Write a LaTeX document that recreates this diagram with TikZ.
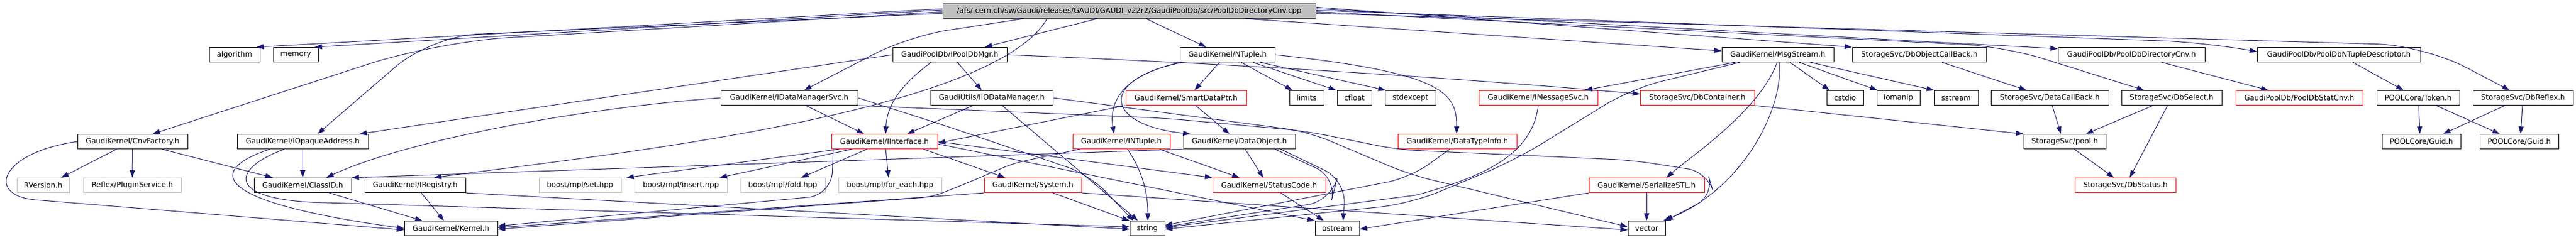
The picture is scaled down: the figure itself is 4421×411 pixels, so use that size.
\documentclass[tikz,border=0pt]{standalone}
\usepackage{fontspec}
\setmainfont{DejaVu Sans}
\usetikzlibrary{arrows.meta}
\definecolor{edgec}{HTML}{191970}
\definecolor{grayb}{HTML}{BFBFBF}
\newcommand\gnode[6]{\node[#1,minimum width=#5*0.75pt] (#2) at (#3,-#4) {#6};}
\begin{document}
\begin{tikzpicture}[x=0.75pt,y=0.75pt,
  box/.style={draw=black, line width=0.75pt, minimum height=18.9pt, inner sep=0pt, font=\fontsize{9.4pt}{11pt}\selectfont, anchor=center},
  rbox/.style={box, draw=red},
  gbox/.style={box, draw=grayb},
  rootbox/.style={box, fill=grayb},
  edge/.style={draw=edgec, line width=0.75pt, -{Triangle[length=9.5pt,width=6.5pt]}},
  redge/.style={edge, rounded corners=#1},
  redge/.default=40pt
]
\useasboundingbox (0,0) rectangle (4421,-411);
\fill[white] (0,0) rectangle (4421,-411);
% row 0
\gnode{rootbox}{root}{1938}{19}{640}{/afs/.cern.ch/sw/Gaudi/releases/GAUDI/GAUDI\_v22r2/GaudiPoolDb/src/PoolDbDirectoryCnv.cpp}
% row 1
\gnode{box}{algorithm}{402.5}{94}{87}{algorithm}
\gnode{box}{memory}{507.5}{94}{77}{memory}
\gnode{box}{IPoolDbMgr}{1630}{94}{196}{GaudiPoolDb/IPoolDbMgr.h}
\gnode{box}{NTuple}{2106.5}{94}{163}{GaudiKernel/NTuple.h}
\gnode{box}{MsgStream}{3051}{94}{192}{GaudiKernel/MsgStream.h}
\gnode{box}{DbObjectCallBack}{3294}{94}{230}{StorageSvc/DbObjectCallBack.h}
\gnode{box}{PoolDbDirectoryCnv}{3658}{94}{252}{GaudiPoolDb/PoolDbDirectoryCnv.h}
\gnode{box}{PoolDbNTupleDescriptor}{4014}{94}{280}{GaudiPoolDb/PoolDbNTupleDescriptor.h}
% row 2
\gnode{box}{IDataManagerSvc}{1354.5}{168}{235}{GaudiKernel/IDataManagerSvc.h}
\gnode{box}{IIODataManager}{1702}{168}{210}{GaudiUtils/IIODataManager.h}
\gnode{rbox}{SmartDataPtr}{2035.5}{168}{207}{GaudiKernel/SmartDataPtr.h}
\gnode{box}{limits}{2242.5}{168}{59}{limits}
\gnode{box}{cfloat}{2324.5}{168}{59}{cfloat}
\gnode{box}{stdexcept}{2420.5}{168}{87}{stdexcept}
\gnode{rbox}{IMessageSvc}{2640}{168}{204}{GaudiKernel/IMessageSvc.h}
\gnode{rbox}{DbContainer}{2913}{168}{196}{StorageSvc/DbContainer.h}
\gnode{box}{cstdio}{3166.5}{168}{63}{cstdio}
\gnode{box}{iomanip}{3258}{168}{74}{iomanip}
\gnode{box}{sstream}{3357}{168}{76}{sstream}
\gnode{box}{DataCallBack}{3518}{168}{202}{StorageSvc/DataCallBack.h}
\gnode{box}{DbSelect}{3727}{168}{172}{StorageSvc/DbSelect.h}
\gnode{rbox}{PoolDbStatCnv}{3946}{168}{218}{GaudiPoolDb/PoolDbStatCnv.h}
\gnode{box}{Token}{4150}{168}{142}{POOLCore/Token.h}
\gnode{box}{DbReflex}{4330}{168}{172}{StorageSvc/DbReflex.h}
% row 3
\gnode{box}{CnvFactory}{227.5}{243}{189}{GaudiKernel/CnvFactory.h}
\gnode{box}{IOpaqueAddress}{519.5}{243}{225}{GaudiKernel/IOpaqueAddress.h}
\gnode{rbox}{IInterface}{1518}{243}{182}{GaudiKernel/IInterface.h}
\gnode{rbox}{INTuple}{1924.5}{243}{167}{GaudiKernel/INTuple.h}
\gnode{box}{DataObject}{2127}{243}{192}{GaudiKernel/DataObject.h}
\gnode{rbox}{DataTypeInfo}{2501}{243}{204}{GaudiKernel/DataTypeInfo.h}
\gnode{box}{pool}{3543.5}{243}{141}{StorageSvc/pool.h}
\gnode{box}{GuidA}{4155.5}{243}{135}{POOLCore/Guid.h}
\gnode{box}{GuidB}{4323.5}{243}{135}{POOLCore/Guid.h}
% row 4
\gnode{gbox}{RVersion}{74}{318}{90}{RVersion.h}
\gnode{gbox}{PluginService}{227}{318}{168}{Reflex/PluginService.h}
\gnode{box}{ClassID}{519.5}{318}{167}{GaudiKernel/ClassID.h}
\gnode{box}{IRegistry}{712.5}{318}{173}{GaudiKernel/IRegistry.h}
\gnode{gbox}{mplset}{995.5}{318}{141}{boost/mpl/set.hpp}
\gnode{gbox}{mplinsert}{1168.5}{318}{159}{boost/mpl/insert.hpp}
\gnode{gbox}{mplfold}{1343.5}{318}{145}{boost/mpl/fold.hpp}
\gnode{gbox}{mplforeach}{1527.5}{318}{177}{boost/mpl/for\_each.hpp}
\gnode{rbox}{System}{1772.5}{318}{167}{GaudiKernel/System.h}
\gnode{rbox}{StatusCode}{2178}{318}{194}{GaudiKernel/StatusCode.h}
\gnode{rbox}{SerializeSTL}{2826}{318}{198}{GaudiKernel/SerializeSTL.h}
\gnode{rbox}{DbStatus}{3647.5}{318}{173}{StorageSvc/DbStatus.h}
% row 5
\gnode{box}{Kernel}{774}{392}{160}{GaudiKernel/Kernel.h}
\gnode{box}{string}{1969}{392}{60}{string}
\gnode{box}{ostream}{2295}{392}{76}{ostream}
\gnode{box}{vector}{2826}{392}{64}{vector}

% ---- edges from root
\draw[edge] ([yshift=3pt]root.west) -- (algorithm.north -| 440,0);
\draw[edge] ([yshift=1.5pt]root.west) -- (memory.north -| 540,0);
\draw[redge=90pt] ([yshift=-1pt]root.west) -- (750,-72) -- (CnvFactory.north -| 262,0);
\draw[redge=60pt] ([yshift=-3pt]root.west) -- (740,-62) -- (IOpaqueAddress.north -| 545,0);
\draw[redge=50pt] (root.south -| 1757,0) -- (1560,-62) -- (IDataManagerSvc.north -| 1380,0);
\draw[edge] (root.south -| 1797,0) .. controls (1700,-200) and (1000,-270) .. (IRegistry.north -| 745,0);
\draw[edge] (root.south -| 1883,0) -- (IPoolDbMgr.north -| 1690,0);
\draw[edge] (root.south -| 1967,0) -- (NTuple.north -| 2070,0);
\draw[edge] (root.south -| 2137,0) -- ([yshift=5pt]MsgStream.west);
\draw[edge] ([yshift=5pt]root.east) -- (DbObjectCallBack.north west);
\draw[edge] ([yshift=3pt]root.east) -- ([yshift=-2pt]PoolDbDirectoryCnv.north west);
\draw[redge=60pt] ([yshift=1pt]root.east) -- (3790,-73) -- ([yshift=4pt]PoolDbNTupleDescriptor.west);
\draw[redge=50pt] ([yshift=-1pt]root.east) -- (3440,-80) -- (DbSelect.north -| 3680,0);
\draw[redge=60pt] ([yshift=-3pt]root.east) -- (4160,-78) -- (DbReflex.north -| 4307,0);

% ---- IPoolDbMgr
\draw[edge] (IPoolDbMgr.south -| 1643,0) -- (IIODataManager.north -| 1685,0);
\draw[edge] (IPoolDbMgr.south -| 1598,0) .. controls (1540,-150) and (1522,-185) .. (IInterface.north -| 1520,0);
\draw[edge] (IPoolDbMgr.east) .. controls (2000,-105) and (2400,-125) .. ([yshift=5pt]DbContainer.west);
\draw[edge] (IPoolDbMgr.west) -- (IOpaqueAddress.north -| 617,0);

% ---- IIODataManager
\draw[edge] (IIODataManager.south -| 1670,0) -- (IInterface.north -| 1557,0);
\draw[edge] (IIODataManager.south -| 1720,0) -- (string.north -| 1953,0);
\draw[redge=30pt] (IIODataManager.east) -- (2245,-226) -- (2420,-300) -- ([yshift=2pt]vector.west);

% ---- IDataManagerSvc
\draw[edge] (IDataManagerSvc.south -| 1383,0) -- (IInterface.north -| 1483,0);
\draw[edge] (IDataManagerSvc.west) .. controls (1000,-185) and (700,-240) .. (ClassID.north -| 560,0);
\draw[redge=30pt] (IDataManagerSvc.east) -- (1620,-215) -- (1870,-300) -- (string.north -| 1945,0);
\draw[redge=25pt] (IDataManagerSvc.south east) -- (2000,-203) -- (2240,-225) -- (2400,-257) -- (2800,-275) -- (2930,-295) -- (2942,-335) -- (vector.north east);

% ---- IOpaqueAddress
\draw[edge] (IOpaqueAddress.south) -- (ClassID.north);
\draw[edge] (IOpaqueAddress.south -| 463,0) .. controls (360,-290) and (350,-345) .. (Kernel.west);
\draw[edge] (IOpaqueAddress.south -| 488,0) .. controls (395,-290) and (385,-345) .. (560,-348) -- ([yshift=2pt]string.west);

% ---- CnvFactory
\draw[edge] (CnvFactory.south -| 200,0) -- (RVersion.north -| 105,0);
\draw[edge] (CnvFactory.south) -- (PluginService.north);
\draw[edge] (CnvFactory.south -| 278,0) -- (ClassID.north -| 468,0);
\draw[edge] (CnvFactory.west) .. controls (0,-262) and (-25,-335) .. (60,-343) -- ([yshift=-2pt]Kernel.west);

% ---- ClassID, IRegistry
\draw[edge] (ClassID.south -| 565,0) -- (Kernel.north -| 725,0);
\draw[edge] (IRegistry.south -| 723,0) -- (Kernel.north -| 762,0);
\draw[edge] (IRegistry.south east) -- ([yshift=-1pt]string.west);

% ---- IInterface
\draw[edge] (IInterface.south -| 1440,0) -- (mplset.north -| 1075,0);
\draw[edge] (IInterface.south -| 1462,0) -- (mplinsert.north -| 1235,0);
\draw[edge] (IInterface.south -| 1488,0) -- (mplfold.north -| 1375,0);
\draw[edge] (IInterface.south -| 1520,0) -- (mplforeach.north -| 1525,0);
\draw[edge] (IInterface.south -| 1585,0) -- (System.north -| 1725,0);
\draw[edge] (IInterface.east) -- (StatusCode.north west);
\draw[redge=30pt] (IInterface.south -| 1430,0) -- (1427,-335) -- ([yshift=3pt]Kernel.east);
\draw[edge] ([yshift=-3pt]IInterface.east) -- (ostream.north west);

% ---- System, StatusCode
\draw[edge] (System.south -| 1807,0) -- (string.north west);
\draw[edge] (System.south west) -- ([yshift=1pt]Kernel.east);
\draw[edge] (System.south east) -- ([yshift=-2pt]vector.west);
\draw[edge] (StatusCode.south -| 2198,0) -- (ostream.north -| 2272,0);

% ---- DataObject
\draw[edge] (DataObject.south -| 2137,0) -- (StatusCode.north -| 2168,0);
\draw[redge=30pt] (DataObject.south -| 2198,0) -- (2310,-310) -- (ostream.north -| 2305,0);
\draw[redge=30pt] (DataObject.south -| 2188,0) -- (2295,-305) -- (2285,-345) -- ([yshift=2pt]string.east);
\draw[edge] (DataObject.south west) -- (ClassID.north east);

% ---- INTuple
\draw[edge] (INTuple.south -| 1935,0) .. controls (1965,-300) and (1970,-340) .. (string.north -| 1970,0);
\draw[redge=15pt] (INTuple.south -| 1853,0) -- (1740,-280) -- (1665,-312) -- (1600,-338) -- ([yshift=-1pt]Kernel.east);
\draw[edge] (INTuple.south -| 1990,0) -- (StatusCode.north -| 2127,0);

% ---- SmartDataPtr
\draw[edge] (SmartDataPtr.south -| 2052,0) -- (DataObject.north -| 2110,0);
\draw[edge] (SmartDataPtr.south west) -- ([yshift=-2pt]IInterface.east);

% ---- NTuple
\draw[edge] (NTuple.south -| 2093,0) -- (SmartDataPtr.north -| 2050,0);
\draw[edge] (NTuple.south -| 2130,0) -- (limits.north -| 2218,0);
\draw[edge] (NTuple.south -| 2150,0) -- (cfloat.north -| 2293,0);
\draw[edge] (NTuple.south -| 2163,0) -- (stdexcept.north -| 2378,0);
\draw[edge] (NTuple.south -| 2030,0) .. controls (1910,-130) and (1905,-190) .. (INTuple.north -| 1912,0);
\draw[edge] (NTuple.south -| 2026,0) .. controls (1880,-140) and (1900,-215) .. (DataObject.north -| 2043,0);
\draw[edge] (NTuple.east) .. controls (2480,-125) and (2500,-160) .. (DataTypeInfo.north -| 2500,0);

% ---- DataTypeInfo, IMessageSvc
\draw[redge=30pt] (DataTypeInfo.south -| 2488,0) -- (2420,-305) -- ([yshift=4pt]string.east);
\draw[edge] (IMessageSvc.south) .. controls (2630,-260) and (2560,-300) .. (2430,-335) -- ([yshift=1pt]string.east);

% ---- MsgStream
\draw[edge] (MsgStream.south -| 2978,0) -- (IMessageSvc.north -| 2720,0);
\draw[redge=40pt] (MsgStream.south -| 2986,0) -- (2800,-152) -- (2600,-275) -- (2420,-350) -- ([yshift=-1pt]string.east);
\draw[edge] (MsgStream.south -| 3072,0) -- (cstdio.north -| 3140,0);
\draw[edge] (MsgStream.south -| 3088,0) -- (iomanip.north -| 3222,0);
\draw[edge] (MsgStream.south -| 3107,0) -- (sstream.north -| 3319,0);
\draw[edge] (MsgStream.south -| 3050,0) .. controls (3020,-190) and (2900,-270) .. (SerializeSTL.north -| 2860,0);
\draw[edge] (MsgStream.south -| 3054,0) .. controls (3060,-200) and (2980,-330) .. ([xshift=-3pt]vector.north east);

% ---- SerializeSTL
\draw[edge] (SerializeSTL.south) -- (vector.north);
\draw[edge] (SerializeSTL.south west) -- ([yshift=-1pt]ostream.east);

% ---- Storage side
\draw[edge] (DbContainer.south east) -- (pool.north west);
\draw[edge] (DbObjectCallBack.south -| 3333,0) -- (DataCallBack.north -| 3478,0);
\draw[edge] (DataCallBack.south -| 3522,0) -- (pool.north -| 3537,0);
\draw[edge] (DbSelect.south -| 3695,0) -- (pool.north -| 3580,0);
\draw[edge] (DbSelect.south -| 3720,0) -- (DbStatus.north -| 3655,0);
\draw[edge] (pool.south -| 3560,0) -- (DbStatus.north -| 3628,0);
\draw[edge] (PoolDbDirectoryCnv.south -| 3710,0) -- (PoolDbStatCnv.north -| 3893,0);
\draw[edge] (PoolDbNTupleDescriptor.south -| 4038,0) -- (Token.north -| 4125,0);
\draw[edge] (Token.south -| 4151,0) -- (GuidA.north -| 4153,0);
\draw[edge] (Token.south -| 4181,0) -- (GuidB.north -| 4290,0);
\draw[edge] (DbReflex.south -| 4299,0) -- (GuidA.north -| 4193,0);
\draw[edge] (DbReflex.south -| 4329,0) -- (GuidB.north -| 4326,0);
\end{tikzpicture}
\end{document}
